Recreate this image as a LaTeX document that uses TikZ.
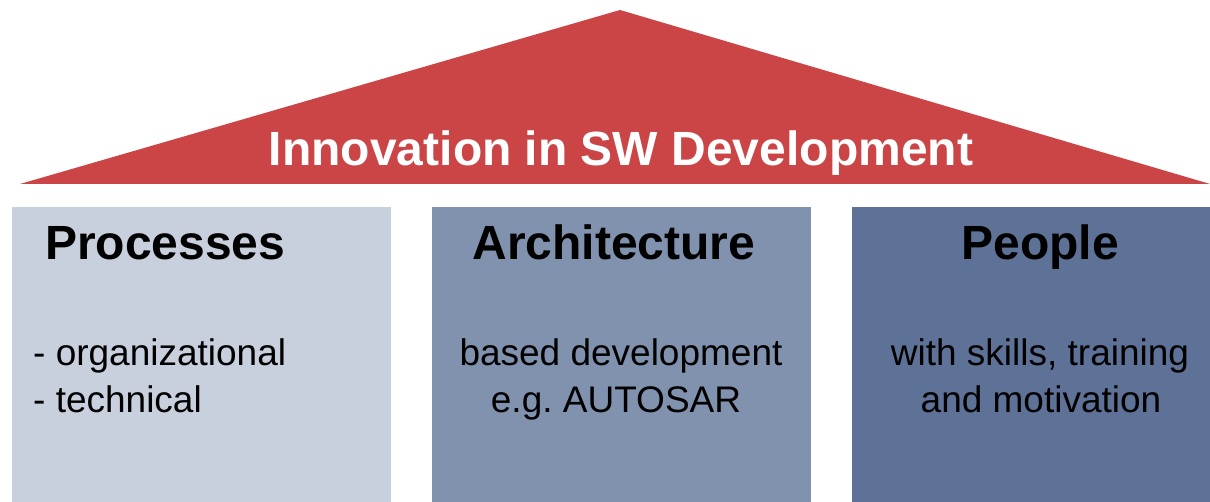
\documentclass[tikz,border=0pt]{standalone}
\usepackage{fontspec}
\setmainfont{Liberation Sans}
\definecolor{roofred}{HTML}{CB4546}
\definecolor{pillarlight}{HTML}{C8CFDD}
\definecolor{pillarmid}{HTML}{8192AF}
\definecolor{pillardark}{HTML}{5E7197}
\begin{document}
\begin{tikzpicture}[x=1pt,y=-1pt]
    \tikzstyle{heading}=[anchor=base, inner sep=0pt, font=\fontsize{48}{52}\selectfont\bfseries]
    \tikzstyle{body}=[anchor=base, inner sep=0pt, font=\fontsize{37}{44}\selectfont]
    \useasboundingbox (0,0) rectangle (1210,502);
    % roof
    \fill[roofred] (20,184) -- (620,10) -- (1210,184) -- cycle;
    \node[anchor=base, inner sep=0pt, text=white, font=\fontsize{48}{52}\selectfont\bfseries] (roof) at (621,166) {Innovation in SW Development};
    % pillars
    \fill[pillarlight] (12,207) rectangle (391,502);
    \fill[pillarmid] (432,207) rectangle (811,502);
    \fill[pillardark] (852,207) rectangle (1210,502);
    \node[heading, anchor=base west] (proc) at (45,260) {Processes};
    \node[heading] (arch) at (614,260) {Architecture};
    \node[heading] (ppl) at (1040,260) {People};
    \node[body, anchor=base west] (proc1) at (33,366) {- organizational};
    \node[body, anchor=base west] (proc2) at (33,412) {- technical};
    \node[body] (arch1) at (621,366) {based development};
    \node[body] (arch2) at (616,412) {e.g.\ AUTOSAR};
    \node[body] (ppl1) at (1040,366) {with skills, training};
    \node[body] (ppl2) at (1041,412) {and motivation};
\end{tikzpicture}
\end{document}
